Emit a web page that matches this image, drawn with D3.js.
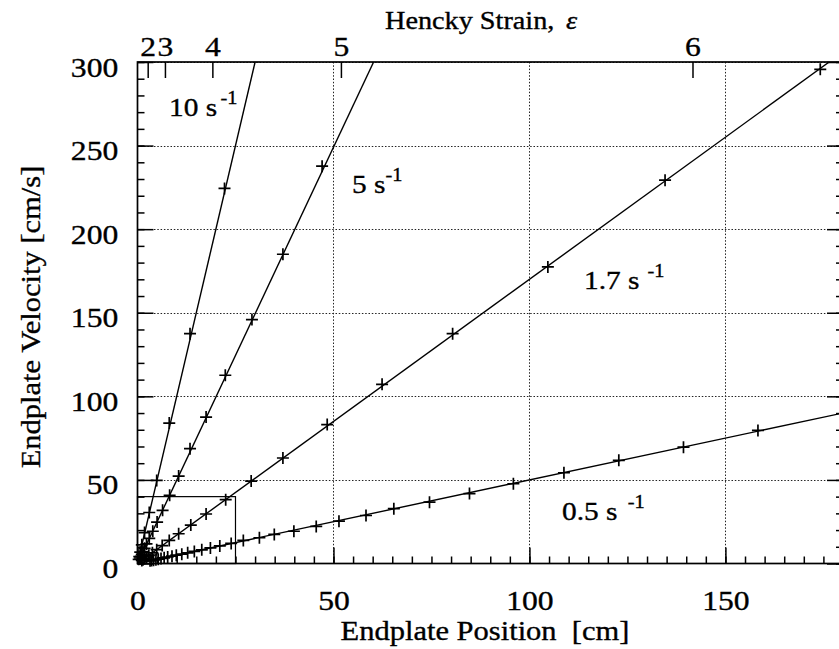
<!DOCTYPE html>
<html>
<head>
<meta charset="utf-8">
<script src="https://cdn.jsdelivr.net/npm/d3@7"></script>
<style>
  body { margin: 0; background: #fff; }
  svg text { font-family: "Liberation Serif", Tinos, "Times New Roman", Times, serif; white-space: pre; }
</style>
</head>
<body>
<div id="chart"></div>
<script>
"use strict";

// data: endplate position [cm] and velocity [cm/s]
var rates = ['10', '5', '1.7', '0.5'];
var fitSlopes = [10.0, 4.98, 1.70, 0.50];

var x10 = [22.2, 13.4, 8.1, 4.9, 3.0, 1.8, 1.1, 0.7, 0.45, 0.3];
var v10 = [224.4, 137.5, 84.0, 49.7, 30.5, 18.5, 11.2, 6.8, 4.1, 2.5];

var x5 = [47.1, 37.1, 29.2, 22.4, 17.5, 13.4, 10.5, 8.2, 6.4, 5.0, 3.9, 3.0, 2.3, 1.8, 1.4, 1.1, 0.85, 0.65];
var v5 = [237.7, 185.0, 145.9, 112.6, 87.6, 68.7, 52.3, 40.8, 31.8, 24.8, 19.3, 15.0, 11.7, 9.1, 7.1, 5.5, 4.3, 3.3];

var x17 = [174.2, 134.6, 104.7, 80.4, 62.4, 48.4, 37.1, 29.0, 22.5, 17.5, 13.6, 10.5, 8.1, 6.3, 4.9, 3.8, 2.9, 2.3, 1.8, 1.4, 1.1];
var v17 = [295.6, 229.3, 177.4, 137.5, 107.2, 83.1, 63.1, 49.3, 38.2, 29.6, 23.0, 17.8, 13.8, 10.7, 8.3, 6.4, 5.0, 3.9, 3.0, 2.3, 1.8];

var x05 = [158.3, 139.3, 122.8, 108.8, 95.9, 84.7, 74.5, 65.4, 58.3, 51.4, 45.6, 39.9, 34.9, 31.1, 27.0,
           23.9, 21.0, 18.6, 16.4, 14.5, 12.8, 11.3, 9.9, 8.8, 7.7, 6.8, 6.0, 5.3, 4.7, 4.1, 3.6, 3.2];
var v05 = [79.6, 69.6, 61.7, 54.3, 47.7, 41.8, 36.7, 32.8, 28.7, 25.3, 22.2, 19.3, 17.4, 15.4, 13.8,
           12.0, 10.5, 9.3, 8.2, 7.2, 6.4, 5.6, 5.0, 4.4, 3.9, 3.4, 3.0, 2.6, 2.3, 2.0, 1.8, 1.6];

var xTicks = [0, 50, 100, 150];
var yTicks = [0, 50, 100, 150, 200, 250, 300];
var strainTicks = [2, 3, 4, 5, 6];
var strainTickCm = [2.6, 7.0, 19.1, 51.9, 141.6];
var boxX = [0, 25];
var boxV = [0, 40];

var W = 839, H = 649;
var plotL = 137.5, plotR = 843, plotT = 62, plotB = 563.5;
var stretch = 1.13;

var svg = d3.select('#chart').append('svg').attr('width', W).attr('height', H).attr('viewBox', '0 0 ' + W + ' ' + H);
svg.append('rect').attr('width', W).attr('height', H).attr('fill', '#fff');

var x = d3.scaleLinear().domain([0, 180]).range([plotL, plotR]);
var y = d3.scaleLinear().domain([0, 300]).range([plotB, plotT]);

svg.append('defs').append('clipPath').attr('id', 'plotClip')
  .append('rect').attr('x', plotL).attr('y', plotT).attr('width', plotR - plotL).attr('height', plotB - plotT);

// dotted grid
var grid = svg.append('g').attr('stroke', '#222').attr('stroke-width', 1).attr('stroke-dasharray', '1.5,1.8');
grid.selectAll('.gx').data(xTicks.slice(1)).enter().append('line')
  .attr('x1', function (d) { return Math.round(x(d)) + 0.5; }).attr('x2', function (d) { return Math.round(x(d)) + 0.5; })
  .attr('y1', plotT).attr('y2', plotB);
grid.selectAll('.gy').data(yTicks.slice(1)).enter().append('line')
  .attr('x1', plotL).attr('x2', plotR)
  .attr('y1', function (d) { return Math.round(y(d)) + 0.5; }).attr('y2', function (d) { return Math.round(y(d)) + 0.5; });

// text helper, slightly widened and heavier like the scanned original
function label(parent, px, py, str, size, anchor) {
  return parent.append('text')
    .attr('transform', 'translate(' + px + ',' + py + ') scale(' + stretch + ',1)')
    .attr('text-anchor', anchor || 'start').attr('font-size', size)
    .attr('fill', '#000').attr('stroke', '#000').attr('stroke-width', 0.35)
    .text(str);
}

// axes, ticks pointing inward
function styleAxis(g) {
  g.attr('font-family', null).attr('font-size', 28);
  g.select('.domain').remove();
  g.selectAll('line').attr('stroke', '#000').attr('stroke-width', 1.5);
  g.selectAll('text').attr('fill', '#000').attr('stroke', '#000').attr('stroke-width', 0.35)
    .attr('transform', 'scale(' + stretch + ',1)');
}

var xMinor = d3.range(0, 181, 5);
var yMinor = d3.range(0, 301, 10);

svg.append('g').attr('transform', 'translate(0,' + plotB + ')')
  .call(d3.axisBottom(x).tickValues(xMinor).tickSize(-7).tickFormat(''))
  .call(styleAxis);
svg.append('g').attr('transform', 'translate(0,' + plotB + ')')
  .call(d3.axisBottom(x).tickValues(xTicks).tickSize(-16).tickPadding(27).tickFormat(d3.format('d')))
  .call(styleAxis);

svg.append('g').attr('transform', 'translate(' + plotL + ',0)')
  .call(d3.axisLeft(y).tickValues(yMinor).tickSize(-7).tickFormat(''))
  .call(styleAxis);
var yAx = svg.append('g').attr('transform', 'translate(' + plotL + ',0)')
  .call(d3.axisLeft(y).tickValues(yTicks).tickSize(-16).tickPadding(17).tickFormat(d3.format('d')))
  .call(styleAxis);
yAx.selectAll('text').attr('dy', '0.5em');

svg.append('g').attr('transform', 'translate(' + plotR + ',0)')
  .call(d3.axisRight(y).tickValues(yMinor).tickSize(-7).tickFormat(''))
  .call(styleAxis);
svg.append('g').attr('transform', 'translate(' + plotR + ',0)')
  .call(d3.axisRight(y).tickValues(yTicks).tickSize(-16).tickFormat(''))
  .call(styleAxis);

svg.append('g').attr('transform', 'translate(0,' + plotT + ')')
  .call(d3.axisTop(x).tickValues(strainTickCm).tickSize(-16).tickPadding(6)
    .tickFormat(function (d, i) { return strainTicks[i]; }))
  .call(styleAxis);

// frame
svg.append('rect').attr('x', plotL).attr('y', plotT).attr('width', plotR - plotL).attr('height', plotB - plotT)
  .attr('fill', 'none').attr('stroke', '#000').attr('stroke-width', 1.7);

// inset box
svg.append('rect').attr('x', x(boxX[0])).attr('y', y(boxV[1]))
  .attr('width', x(boxX[1]) - x(boxX[0])).attr('height', y(boxV[0]) - y(boxV[1]))
  .attr('fill', 'none').attr('stroke', '#000').attr('stroke-width', 1.2);

// fit lines
var plot = svg.append('g').attr('clip-path', 'url(#plotClip)');
fitSlopes.forEach(function (s) {
  var xEnd = Math.min(180, 300 / s);
  plot.append('line')
    .attr('x1', x(0)).attr('y1', y(0))
    .attr('x2', x(xEnd)).attr('y2', y(s * xEnd))
    .attr('stroke', '#000').attr('stroke-width', 1.4);
});

// markers (not clipped: the ones at the origin spill over the frame)
var marks = svg.append('g');
var series = [[x10, v10], [x5, v5], [x17, v17], [x05, v05]];
series.forEach(function (s) {
  var pts = s[0].map(function (d, i) { return [d, s[1][i]]; });
  marks.selectAll(null).data(pts).enter().append('path')
    .attr('transform', function (d) { return 'translate(' + x(d[0]) + ',' + y(d[1]) + ')'; })
    .attr('d', 'M-6,0H6M0,-6V6')
    .attr('stroke', '#000').attr('stroke-width', 1.7).attr('fill', 'none');
});

// rate labels, "s" with a superscript "-1"
var labelPos = [[169, 116], [352, 193], [584, 289], [562, 520]];
var supGap = [3, 0, 7, 9];
rates.forEach(function (r, i) {
  var t = label(svg, labelPos[i][0], labelPos[i][1], null, 26);
  t.append('tspan').text(r + ' s');
  t.append('tspan').attr('dx', supGap[i]).attr('dy', -12).attr('font-size', 18).text('-1');
});

// titles
label(svg, 485, 640, 'Endplate Position  [cm]', 27, 'middle');
label(svg, 40, 317, 'Endplate Velocity [cm/s]', 27, 'middle')
  .attr('transform', 'translate(40,317) rotate(-90) scale(' + stretch + ',1)');
label(svg, 385, 29, 'Hencky Strain,', 25);
label(svg, 566, 29, 'ε', 25).attr('font-style', 'italic');
</script>
</body>
</html>
